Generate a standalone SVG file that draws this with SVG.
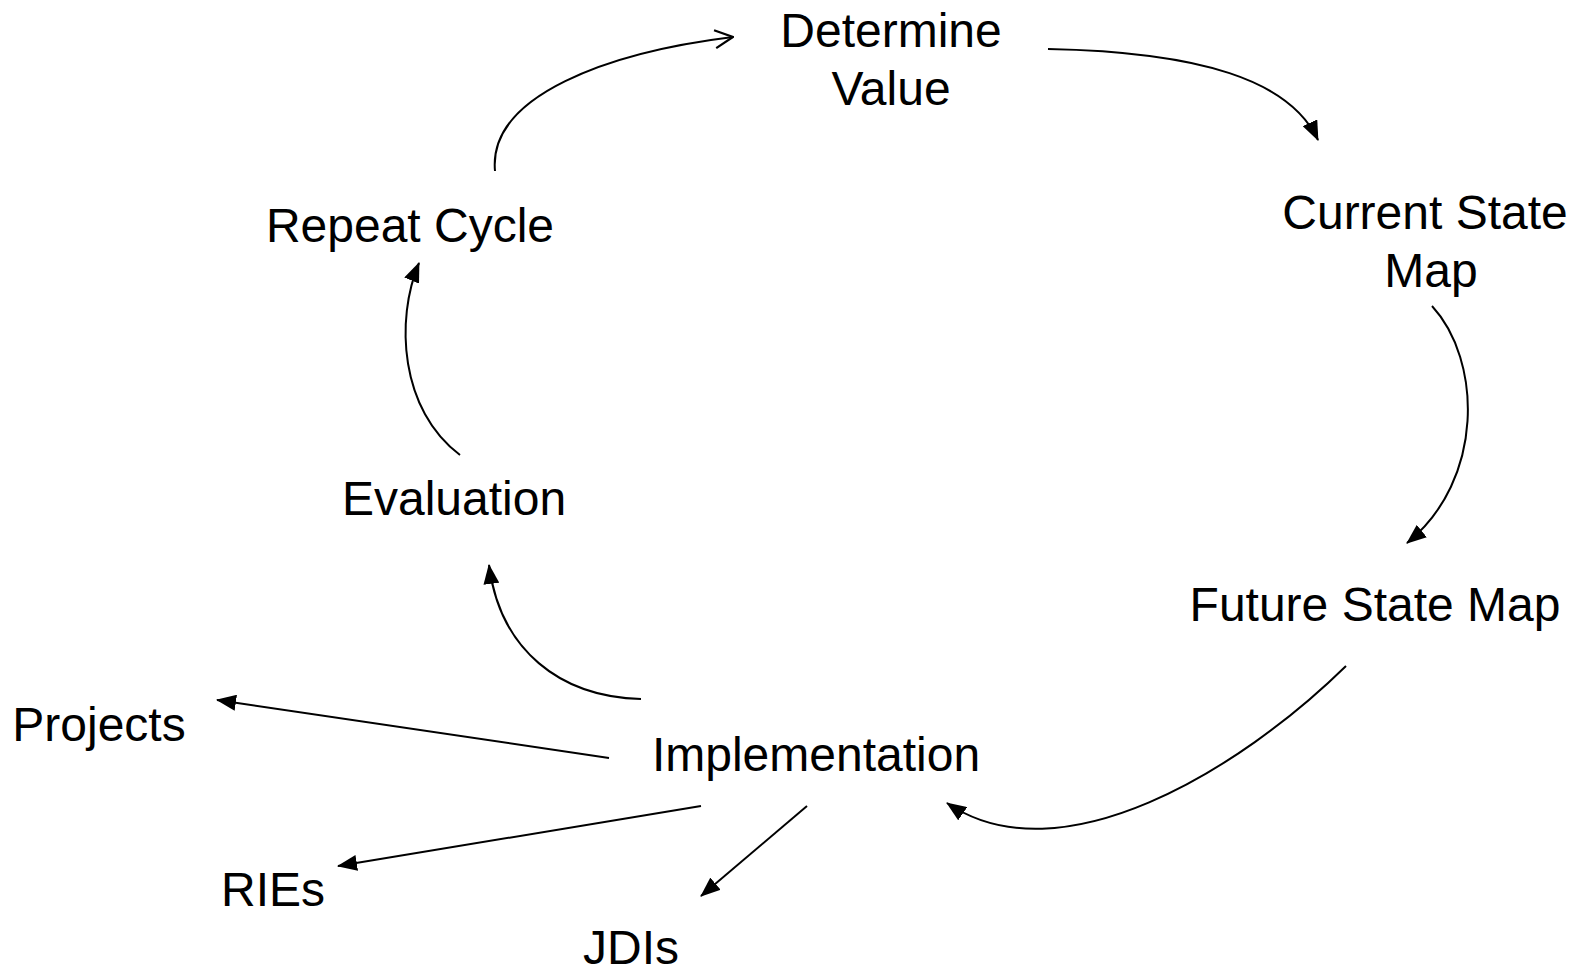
<svg xmlns="http://www.w3.org/2000/svg" width="1577" height="971" viewBox="0 0 1577 971">
<style>
.t{font-family:"Liberation Sans",Arial,sans-serif;font-size:48px;fill:#000;text-anchor:middle}
.c{fill:none;stroke:#000;stroke-width:2}
</style>
<defs>
<marker id="fa" viewBox="0 0 20 16" refX="19" refY="8" markerWidth="20" markerHeight="16" markerUnits="userSpaceOnUse" orient="auto">
<path d="M0,0 L20,8 L0,16 Z" fill="#000"/>
</marker>
<marker id="oa" viewBox="0 0 20 20" refX="19" refY="10" markerWidth="20" markerHeight="20" markerUnits="userSpaceOnUse" orient="auto">
<path d="M1,1 L19,10 L1,19" fill="none" stroke="#000" stroke-width="2.2"/>
</marker>
</defs>
<rect width="1577" height="971" fill="#fff"/>
<g id="connectors">
<path class="c" d="M495,171 C488,95 610,52 733,37" marker-end="url(#oa)"/>
<path class="c" d="M1048,49 C1200,52 1290,80 1318,140" marker-end="url(#fa)"/>
<path class="c" d="M1432,306 C1482,360 1485,480 1407,543" marker-end="url(#fa)"/>
<path class="c" d="M1346,666 C1240,770 1060,880 947,803" marker-end="url(#fa)"/>
<path class="c" d="M641,699 C560,697 500,650 489,565" marker-end="url(#fa)"/>
<path class="c" d="M460,455 C400,410 395,320 419,263" marker-end="url(#fa)"/>
<path class="c" d="M609,758 L217,700" marker-end="url(#fa)"/>
<path class="c" d="M701,806 L338,866" marker-end="url(#fa)"/>
<path class="c" d="M807,806 L701,896" marker-end="url(#fa)"/>
</g>
<g id="determine-value"><text class="t" x="891" y="47">Determine</text><text class="t" x="891" y="105">Value</text></g>
<g id="current-state-map"><text class="t" x="1425" y="229">Current State</text><text class="t" x="1431" y="287">Map</text></g>
<g id="future-state-map"><text class="t" x="1375" y="621">Future State Map</text></g>
<g id="implementation"><text class="t" x="816" y="771">Implementation</text></g>
<g id="evaluation"><text class="t" x="454" y="515">Evaluation</text></g>
<g id="repeat-cycle"><text class="t" x="410" y="242">Repeat Cycle</text></g>
<g id="projects"><text class="t" x="99" y="741">Projects</text></g>
<g id="ries"><text class="t" x="273" y="906">RIEs</text></g>
<g id="jdis"><text class="t" x="631" y="964">JDIs</text></g>
</svg>
